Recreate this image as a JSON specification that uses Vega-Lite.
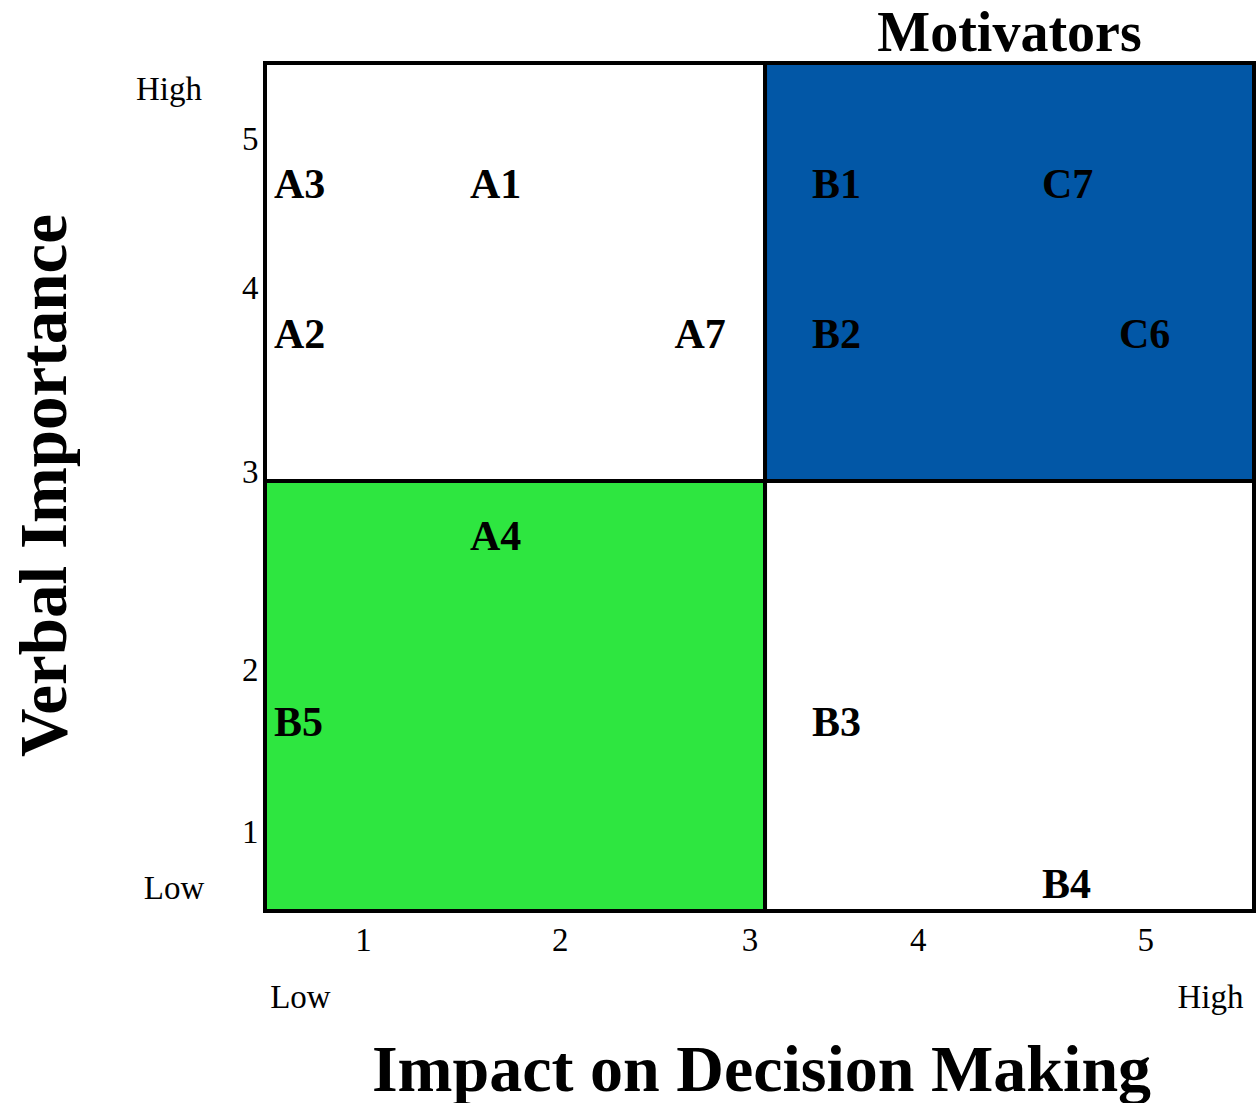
{
  "$schema": "https://vega.github.io/schema/vega-lite/v6.json",
  "width": 989,
  "height": 848,
  "autosize": {"type": "none"},
  "padding": {"left": 265, "top": 63, "right": 3, "bottom": 192},
  "background": "white",
  "config": {"view": {"stroke": null}, "font": "Liberation Serif"},
  "datasets": {
    "quadrants": [
      {"quadrant": "top-left", "x": 0.5, "x2": 3.028, "y": 3.023, "y2": 5.432},
      {"quadrant": "top-right", "x": 3.028, "x2": 5.5, "y": 3.023, "y2": 5.432},
      {"quadrant": "bottom-left", "x": 0.5, "x2": 3.028, "y": 0.545, "y2": 3.023},
      {"quadrant": "bottom-right", "x": 3.028, "x2": 5.5, "y": 0.545, "y2": 3.023}
    ],
    "items": [
      {"label": "A3", "x": 0.5455, "y": 4.654},
      {"label": "A1", "x": 1.536, "y": 4.654},
      {"label": "B1", "x": 3.265, "y": 4.654},
      {"label": "C7", "x": 4.428, "y": 4.654},
      {"label": "A2", "x": 0.5455, "y": 3.79},
      {"label": "A7", "x": 2.57, "y": 3.79},
      {"label": "B2", "x": 3.265, "y": 3.79},
      {"label": "C6", "x": 4.817, "y": 3.79},
      {"label": "A4", "x": 1.536, "y": 2.628},
      {"label": "B5", "x": 0.5455, "y": 1.556},
      {"label": "B3", "x": 3.265, "y": 1.556},
      {"label": "B4", "x": 4.428, "y": 0.62}
    ],
    "ends": [
      {"label": "High", "x": 0.0147, "y": 5.219},
      {"label": "Low", "x": 0.04, "y": 0.614},
      {"label": "Low", "x": 0.679, "y": -0.014},
      {"label": "High", "x": 5.28, "y": -0.014}
    ],
    "heading": [
      {"label": "Motivators", "x": 4.264, "y": 5.501}
    ]
  },
  "encoding": {
    "x": {
      "field": "x",
      "type": "quantitative",
      "scale": {"domain": [0.5, 5.5], "nice": false, "zero": false},
      "axis": {
        "values": [0.995, 1.99, 2.95, 3.8, 4.95],
        "labelExpr": "format(round(datum.value), 'd')",
        "domain": false,
        "ticks": false,
        "grid": false,
        "labelFont": "Liberation Serif",
        "labelFontSize": 33,
        "labelColor": "black",
        "labelBaseline": "alphabetic",
        "labelPadding": 39,
        "labelFlush": false,
        "labelOverlap": false,
        "title": "Impact on Decision Making",
        "titleFont": "Liberation Serif",
        "titleFontSize": 66,
        "titleFontWeight": "bold",
        "titleColor": "black",
        "titleX": 496,
        "titleY": 179,
        "titleBaseline": "alphabetic",
        "titleAlign": "center"
      }
    },
    "y": {
      "field": "y",
      "type": "quantitative",
      "scale": {"domain": [0.545, 5.432], "nice": false, "zero": false},
      "axis": {
        "values": [0.937, 1.8705, 3.012, 4.072, 4.931],
        "labelExpr": "format(round(datum.value), 'd')",
        "domain": false,
        "ticks": false,
        "grid": false,
        "labelFont": "Liberation Serif",
        "labelFontSize": 33,
        "labelColor": "black",
        "labelBaseline": "alphabetic",
        "labelAlign": "right",
        "labelPadding": 7,
        "labelFlush": false,
        "labelOverlap": false,
        "title": "Verbal Importance",
        "titleFont": "Liberation Serif",
        "titleFontSize": 67,
        "titleFontWeight": "bold",
        "titleColor": "black",
        "titleAngle": -90,
        "titleX": -200,
        "titleY": 422,
        "titleBaseline": "alphabetic",
        "titleAlign": "center"
      }
    }
  },
  "layer": [
    {
      "data": {"name": "quadrants"},
      "mark": {"type": "rect", "stroke": "black", "strokeWidth": 4, "clip": false},
      "encoding": {
        "x2": {"field": "x2"},
        "y2": {"field": "y2"},
        "fill": {
          "field": "quadrant",
          "type": "nominal",
          "scale": {
            "domain": ["top-left", "top-right", "bottom-left", "bottom-right"],
            "range": ["#ffffff", "#0257A6", "#2EE640", "#ffffff"]
          },
          "legend": null
        }
      }
    },
    {
      "data": {"name": "items"},
      "mark": {"type": "text", "align": "left", "baseline": "alphabetic", "font": "Liberation Serif", "fontWeight": "bold", "fontSize": 42, "color": "black", "clip": false},
      "encoding": {"text": {"field": "label"}}
    },
    {
      "data": {"name": "ends"},
      "mark": {"type": "text", "align": "center", "baseline": "alphabetic", "font": "Liberation Serif", "fontSize": 33, "color": "black", "clip": false},
      "encoding": {"text": {"field": "label"}}
    },
    {
      "data": {"name": "heading"},
      "mark": {"type": "text", "align": "center", "baseline": "alphabetic", "font": "Liberation Serif", "fontWeight": "bold", "fontSize": 56, "color": "black", "clip": false},
      "encoding": {"text": {"field": "label"}}
    }
  ]
}
